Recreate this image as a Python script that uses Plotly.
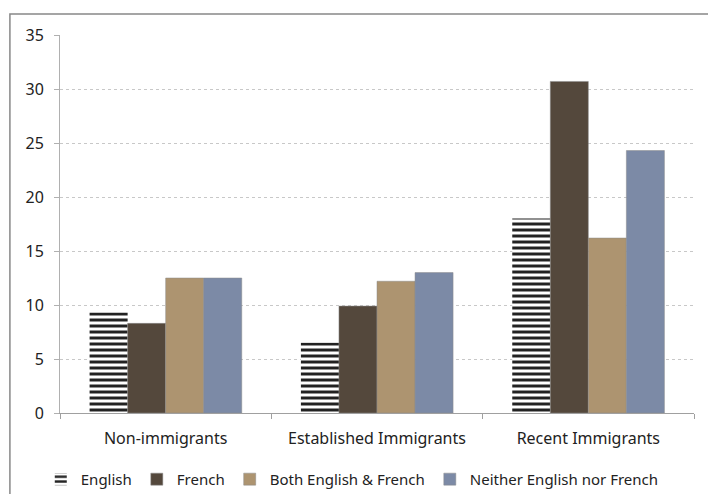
import plotly.graph_objects as go

groups = ["Non-immigrants", "Established Immigrants", "Recent Immigrants"]
english = [9.3, 6.5, 18.0]
french = [8.3, 9.9, 30.7]
both = [12.5, 12.2, 16.2]
neither = [12.5, 13.0, 24.3]
y_ticks = [0, 5, 10, 15, 20, 25, 30, 35]

font = dict(family="Noto Sans, DejaVu Sans, sans-serif", size=16, color="#222")
legend_font = dict(family="Noto Sans, DejaVu Sans, sans-serif", size=15, color="#222")

fig = go.Figure()
fig.add_trace(go.Bar(
    name="English", x=groups, y=english,
    marker=dict(color="white", line=dict(width=0),
                pattern=dict(shape="-", size=6, solidity=0.5, fgcolor="#222", bgcolor="white", fillmode="replace")),
))
fig.add_trace(go.Bar(name="French", x=groups, y=french,
                     marker=dict(color="#54483c", line=dict(width=0.5, color="#8a8a8a"))))
fig.add_trace(go.Bar(name="Both English & French", x=groups, y=both,
                     marker=dict(color="#ad9470", line=dict(width=0.5, color="#8a8a8a"))))
fig.add_trace(go.Bar(name="Neither English nor French", x=groups, y=neither,
                     marker=dict(color="#7c8aa6", line=dict(width=0.5, color="#8a8a8a"))))

# page body has an 8px margin, so the figure is sized/offset to compensate
fig.update_layout(
    width=708, height=486,
    margin=dict(l=52, r=22, t=27, b=81, autoexpand=False),
    paper_bgcolor="white", plot_bgcolor="white",
    font=font,
    barmode="group", bargap=0.28, bargroupgap=0,
    showlegend=True,
    legend=dict(orientation="h", x=0.461, xanchor="center", y=-0.132, yanchor="top",
                font=legend_font, itemwidth=30, tracegroupgap=0),
    shapes=[dict(type="rect", xref="paper", yref="paper",
                 x0=-0.079, x1=1.0315, y0=-0.3, y1=1.0556,
                 line=dict(color="#888", width=1.5))],
)
fig.update_yaxes(range=[0, 35], tickvals=y_ticks, showgrid=True,
                 gridcolor="#c8c8c8", griddash="dot", gridwidth=1,
                 showline=True, linecolor="#b0b0b0", ticks="outside", ticklen=5,
                 tickcolor="#b0b0b0", zeroline=False, tickfont=font, ticklabelstandoff=7)
fig.update_xaxes(showline=True, linecolor="#a0a0a0", ticks="outside", tickson="boundaries",
                 ticklen=5, tickcolor="#a0a0a0", tickfont=font, ticklabelstandoff=11)

fig.write_html("out.html")
